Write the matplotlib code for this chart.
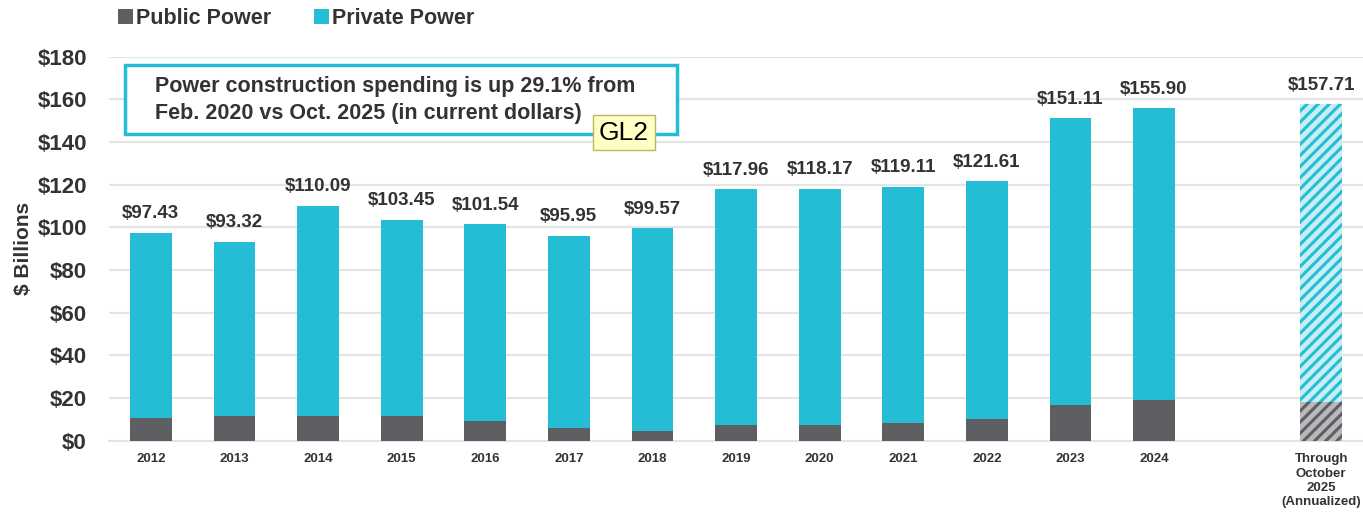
import numpy as np
import matplotlib.pyplot as plt
from matplotlib.patches import Patch, FancyBboxPatch

plt.rcParams["font.family"] = ["Liberation Sans", "DejaVu Sans"]
plt.rcParams["hatch.linewidth"] = 2.2

years = ["2012", "2013", "2014", "2015", "2016", "2017", "2018",
         "2019", "2020", "2021", "2022", "2023", "2024"]
totals = [97.43, 93.32, 110.09, 103.45, 101.54, 95.95, 99.57,
          117.96, 118.17, 119.11, 121.61, 151.11, 155.90]
public = [10.8, 11.8, 11.6, 11.6, 9.5, 5.9, 4.8,
          7.3, 7.3, 8.4, 10.2, 16.8, 19.2]

ytd_label = "Through\nOctober\n2025\n(Annualized)"
ytd_total = 157.71
ytd_public = 18.0

PUBLIC = "#5e5f63"
PRIVATE = "#25bdd6"
TEXT = "#333333"
GRID = "#e4e4e4"


def money(v):
    return f"${v:.2f}"


fig = plt.figure(figsize=(13.63, 5.12), dpi=100)
ax = fig.add_axes([0.080, 0.139, 0.920, 0.750])

x = np.arange(len(years))
private = np.array(totals) - np.array(public)
ax.bar(x, public, width=0.5, color=PUBLIC, zorder=3)
ax.bar(x, private, width=0.5, bottom=public, color=PRIVATE, zorder=3)

# annualized bar, hatched
xl = len(years) + 1
ax.bar(xl, ytd_public, width=0.5, color="#b8b9bb", edgecolor=PUBLIC,
       hatch="///", linewidth=0, zorder=3)
ax.bar(xl, ytd_total - ytd_public, width=0.5, bottom=ytd_public,
       color="#c8eef5", edgecolor=PRIVATE, hatch="///", linewidth=0, zorder=3)

for xi, t in zip(list(x) + [xl], totals + [ytd_total]):
    ax.text(xi, t + 5, money(t), ha="center", va="bottom",
            fontsize=13.5, fontweight="bold", color=TEXT)

ax.set_xlim(-0.5, 14.5)
ax.set_ylim(0, 180)
ax.set_yticks(range(0, 181, 20))
ax.set_yticklabels([f"${v}" for v in range(0, 181, 20)],
                   fontsize=16, fontweight="bold", color=TEXT)
ax.set_xticks(list(x) + [xl])
ax.set_xticklabels(years + [ytd_label], fontsize=9.5, fontweight="bold",
                   color=TEXT, va="top", linespacing=1.25)
ax.tick_params(length=0, pad=9)
ax.tick_params(axis="y", pad=16)
ax.set_ylabel("$ Billions", fontsize=15, fontweight="bold", color=TEXT)
ax.yaxis.set_label_coords(-0.061, 0.5)

ax.grid(axis="y", color=GRID, linewidth=1.5, zorder=0)
for s in ["top", "right", "left"]:
    ax.spines[s].set_visible(False)
ax.spines["bottom"].set_color(GRID)
ax.spines["bottom"].set_linewidth(1.5)

# callout box
box = FancyBboxPatch((0.0917, 0.739), 0.405, 0.134, boxstyle="square,pad=0",
                     transform=fig.transFigure, facecolor="white",
                     edgecolor=PRIVATE, linewidth=2.5, zorder=5)
fig.patches.append(box)
fig.text(0.114, 0.805,
         "Power construction spending is up 29.1% from\n"
         "Feb. 2020 vs Oct. 2025 (in current dollars)",
         fontsize=15.5, fontweight="bold", color=TEXT, va="center",
         linespacing=1.35, zorder=6)
fig.text(0.4395, 0.741, "GL2", fontsize=19, color="black", ha="left",
         va="center", zorder=7,
         bbox=dict(boxstyle="square,pad=0.22", facecolor="#ffffc6",
                   edgecolor="#b8b860", linewidth=1))

legend = [Patch(facecolor=PUBLIC, label="Public Power"),
          Patch(facecolor=PRIVATE, label="Private Power")]
fig.legend(handles=legend, loc="center left", bbox_to_anchor=(0.072, 0.963),
           ncol=2, frameon=False, prop={"size": 15.5, "weight": "bold"},
           handlelength=0.7, handleheight=0.7, handletextpad=0.15,
           columnspacing=2.0, labelcolor=TEXT)

plt.savefig("out.png", dpi=100)
plt.close()
